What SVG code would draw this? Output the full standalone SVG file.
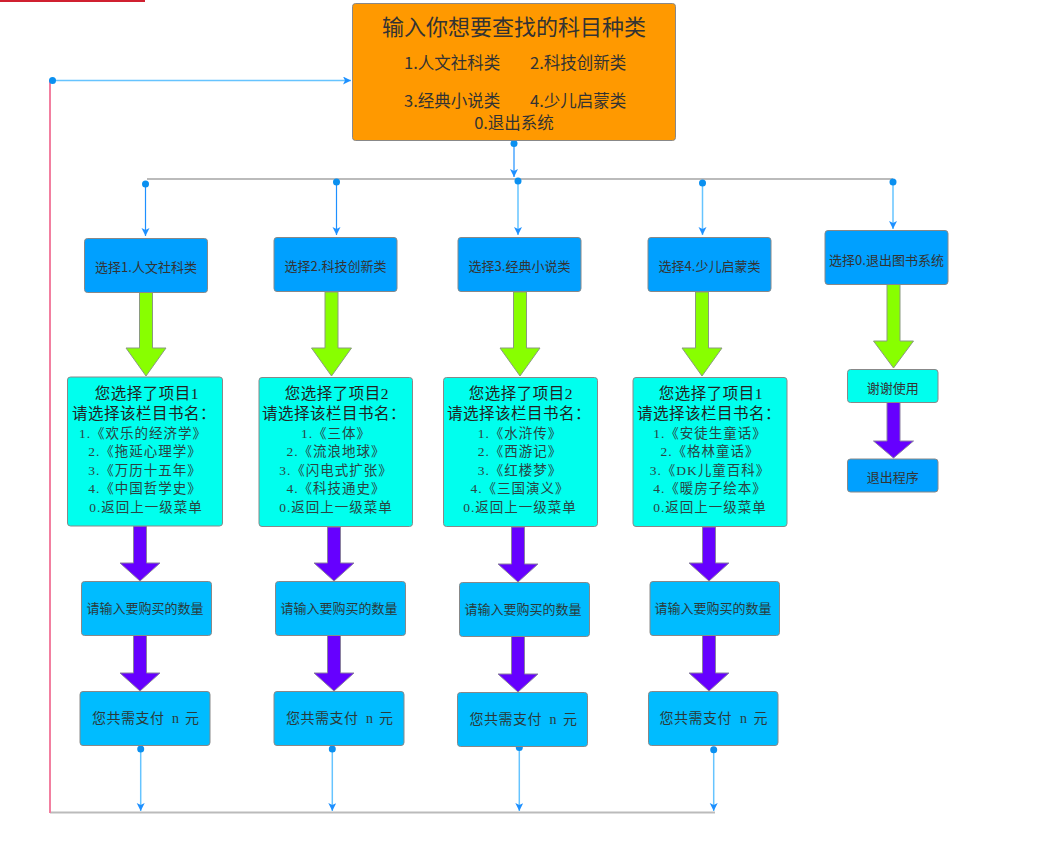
<svg xmlns="http://www.w3.org/2000/svg" width="1052" height="867" viewBox="0 0 1052 867">
<style>
.box{stroke:#888;stroke-width:1}
.orange{fill:#ff9900}
.blue{fill:#00a0ff}
.sky{fill:#00bcff}
.cyan{fill:#00ffee}
.green{fill:#88ff00;stroke:#8a9a80;stroke-width:1}
.purple{fill:#6600ff;stroke:#8a80a0;stroke-width:1}
.t{font-family:"Noto Sans CJK SC","Noto Sans",sans-serif;fill:#333;text-anchor:middle;dominant-baseline:central}
.ts{font-family:"Liberation Serif","Noto Sans CJK SC",serif;fill:#2a3a3a;text-anchor:middle;dominant-baseline:central}
.li{font-size:13.5px;letter-spacing:1px;fill:#2a4444}
.hd{font-size:15.5px;letter-spacing:0.5px;fill:#222}
.c1{fill:none;stroke:#1e90ff;stroke-width:1.2}
.c2{fill:none;stroke:#66c4ff;stroke-width:1.5}
.g{fill:none;stroke:#bbbbbb;stroke-width:2}
.dot{fill:#0a90f0}
</style>
<defs>
<marker id="ah" markerUnits="userSpaceOnUse" markerWidth="10" markerHeight="10" refX="8" refY="4" orient="auto">
<path d="M0,0 L8,4 L0,8 L2,4 z" fill="#1e90ff"/>
</marker>
</defs>
<rect x="0" y="0" width="145" height="2" fill="#d02030"/>

<g id="connectors">
<line class="g" x1="147" y1="179" x2="893" y2="179"/>
<line class="g" x1="50" y1="812.5" x2="715" y2="812.5"/>
<line x1="50" y1="80" x2="50" y2="813" stroke="#f27fa0" stroke-width="2"/>
<line class="c2" x1="52.5" y1="80.5" x2="351" y2="80.5" marker-end="url(#ah)"/>
<circle class="dot" cx="52.5" cy="80.5" r="3.5"/>
<line class="c1" x1="514" y1="143" x2="514" y2="177" marker-end="url(#ah)"/>
<circle class="dot" cx="514" cy="143.5" r="3.5"/>
<line class="c1" x1="145.5" y1="184" x2="145.5" y2="236" marker-end="url(#ah)"/>
<circle class="dot" cx="145.5" cy="184" r="3.5"/>
<line class="c1" x1="336.5" y1="182" x2="336.5" y2="235" marker-end="url(#ah)"/>
<circle class="dot" cx="336.5" cy="182" r="3.5"/>
<line class="c2" x1="518" y1="181" x2="518" y2="235" marker-end="url(#ah)"/>
<circle class="dot" cx="518" cy="181" r="3.5"/>
<line class="c2" x1="702.5" y1="183" x2="702.5" y2="235" marker-end="url(#ah)"/>
<circle class="dot" cx="702.5" cy="183" r="3.5"/>
<line class="c2" x1="893" y1="182" x2="893" y2="229" marker-end="url(#ah)"/>
<circle class="dot" cx="893" cy="182" r="3.5"/>
<line class="c2" x1="140.7" y1="749" x2="140.7" y2="811" marker-end="url(#ah)"/>
<circle class="dot" cx="140.7" cy="749" r="3.5"/>
<line class="c2" x1="332.3" y1="749" x2="332.3" y2="811" marker-end="url(#ah)"/>
<circle class="dot" cx="332.3" cy="749" r="3.5"/>
<line class="c2" x1="519.3" y1="747.5" x2="519.3" y2="811" marker-end="url(#ah)"/>
<circle class="dot" cx="519.3" cy="747.5" r="3.5"/>
<line class="c2" x1="713.7" y1="749.7" x2="713.7" y2="811" marker-end="url(#ah)"/>
<circle class="dot" cx="713.7" cy="749.7" r="3.5"/>
<polygon class="green" points="139.5,292 152.5,292 152.5,348 166,348 146,376 126,348 139.5,348"/>
<polygon class="green" points="325,292 338,292 338,348 351.5,348 331.5,376 311.5,348 325,348"/>
<polygon class="green" points="513.5,292 526.5,292 526.5,348 540,348 520,376 500,348 513.5,348"/>
<polygon class="green" points="695.5,292 708.5,292 708.5,348 722,348 702,376 682,348 695.5,348"/>
<polygon class="green" points="887,284 900,284 900,341 913.5,341 893.5,368 873.5,341 887,341"/>
<polygon class="purple" points="133.5,526 146.5,526 146.5,563 160,563 140,581 120,563 133.5,563"/>
<polygon class="purple" points="327.5,527 340.5,527 340.5,563 354,563 334,581 314,563 327.5,563"/>
<polygon class="purple" points="511.5,527 524.5,527 524.5,564 538,564 518,582 498,564 511.5,564"/>
<polygon class="purple" points="702.5,527 715.5,527 715.5,563 729,563 709,581 689,563 702.5,563"/>
<polygon class="purple" points="133.5,635 146.5,635 146.5,673 160,673 140,691 120,673 133.5,673"/>
<polygon class="purple" points="327.5,635 340.5,635 340.5,673 354,673 334,691 314,673 327.5,673"/>
<polygon class="purple" points="511.5,636 524.5,636 524.5,674 538,674 518,692 498,674 511.5,674"/>
<polygon class="purple" points="702.5,635 715.5,635 715.5,673 729,673 709,691 689,673 702.5,673"/>
<polygon class="purple" points="887,402 900,402 900,441 913.5,441 893.5,458 873.5,441 887,441"/>
</g>

<g id="start">
<rect class="box orange" x="352.5" y="3.5" width="323" height="137" rx="3"/>
<text class="t" x="514" y="25" font-size="22">输入你想要查找的科目种类</text>
<text class="t" x="404" y="62" font-size="16.5" style="text-anchor:start">1.人文社科类</text>
<text class="t" x="530" y="62" font-size="16.5" style="text-anchor:start">2.科技创新类</text>
<text class="t" x="404" y="100" font-size="16.5" style="text-anchor:start">3.经典小说类</text>
<text class="t" x="530" y="100" font-size="16.5" style="text-anchor:start">4.少儿启蒙类</text>
<text class="t" x="514" y="121.5" font-size="16.5">0.退出系统</text>
</g>

<g id="sel1"><rect class="box blue" x="84.5" y="238.5" width="123" height="54" rx="3"/><text class="t" x="146" y="266.5" font-size="13">选择1.人文社科类</text></g>
<g id="sel2"><rect class="box blue" x="274" y="237.5" width="123" height="54" rx="3"/><text class="t" x="335.5" y="265.5" font-size="13">选择2.科技创新类</text></g>
<g id="sel3"><rect class="box blue" x="458" y="237.5" width="123" height="54" rx="3"/><text class="t" x="519.5" y="265.5" font-size="13">选择3.经典小说类</text></g>
<g id="sel4"><rect class="box blue" x="648" y="237.5" width="123" height="54" rx="3"/><text class="t" x="709.5" y="265.5" font-size="13">选择4.少儿启蒙类</text></g>
<g id="sel0"><rect class="box blue" x="825" y="230.5" width="123" height="54" rx="3"/><text class="t" x="886.5" y="259" font-size="13">选择0.退出图书系统</text></g>

<g id="list1">
<rect class="box cyan" x="67.5" y="377" width="155" height="149" rx="3"/>
<text class="ts hd" x="147" y="393">您选择了项目1</text>
<text class="ts hd" x="144" y="413">请选择该栏目书名：</text>
<text class="ts li" x="143" y="433">1.《欢乐的经济学》</text>
<text class="ts li" x="145" y="451.5">2.《拖延心理学》</text>
<text class="ts li" x="145" y="470">3.《万历十五年》</text>
<text class="ts li" x="145" y="488.5">4.《中国哲学史》</text>
<text class="ts li" x="146" y="507">0.返回上一级菜单</text>
</g>
<g id="list2">
<rect class="box cyan" x="259" y="377.5" width="153.5" height="149" rx="3"/>
<text class="ts hd" x="337" y="393">您选择了项目2</text>
<text class="ts hd" x="334" y="413">请选择该栏目书名：</text>
<text class="ts li" x="336" y="433">1.《三体》</text>
<text class="ts li" x="336" y="451.5">2.《流浪地球》</text>
<text class="ts li" x="336" y="470">3.《闪电式扩张》</text>
<text class="ts li" x="336" y="488.5">4.《科技通史》</text>
<text class="ts li" x="336" y="507">0.返回上一级菜单</text>
</g>
<g id="list3">
<rect class="box cyan" x="443.5" y="377.5" width="154" height="149" rx="3"/>
<text class="ts hd" x="521" y="393">您选择了项目2</text>
<text class="ts hd" x="519" y="413">请选择该栏目书名：</text>
<text class="ts li" x="520" y="433">1.《水浒传》</text>
<text class="ts li" x="520" y="451.5">2.《西游记》</text>
<text class="ts li" x="520" y="470">3.《红楼梦》</text>
<text class="ts li" x="520" y="488.5">4.《三国演义》</text>
<text class="ts li" x="520" y="507">0.返回上一级菜单</text>
</g>
<g id="list4">
<rect class="box cyan" x="633" y="377.5" width="154" height="149" rx="3"/>
<text class="ts hd" x="711" y="393">您选择了项目1</text>
<text class="ts hd" x="709" y="413">请选择该栏目书名：</text>
<text class="ts li" x="710" y="433">1.《安徒生童话》</text>
<text class="ts li" x="710" y="451.5">2.《格林童话》</text>
<text class="ts li" x="710" y="470">3.《DK儿童百科》</text>
<text class="ts li" x="710" y="488.5">4.《暖房子绘本》</text>
<text class="ts li" x="710" y="507">0.返回上一级菜单</text>
</g>

<g id="qty1"><rect class="box sky" x="81.5" y="581.5" width="130" height="54" rx="3"/><text class="ts" x="145" y="608" font-size="13">请输入要购买的数量</text></g>
<g id="qty2"><rect class="box sky" x="275.5" y="581.5" width="130" height="54" rx="3"/><text class="ts" x="339" y="608" font-size="13">请输入要购买的数量</text></g>
<g id="qty3"><rect class="box sky" x="459.5" y="582.5" width="130" height="54" rx="3"/><text class="ts" x="523" y="609" font-size="13">请输入要购买的数量</text></g>
<g id="qty4"><rect class="box sky" x="650" y="581.5" width="129.5" height="54" rx="3"/><text class="ts" x="713" y="608" font-size="13">请输入要购买的数量</text></g>

<g id="pay1"><rect class="box sky" x="80" y="691.5" width="130" height="54" rx="3"/><text class="ts" y="718" font-size="14" letter-spacing="0.5" style="text-anchor:start"><tspan x="92">您共需支付</tspan><tspan x="172">n</tspan><tspan x="185">元</tspan></text></g>
<g id="pay2"><rect class="box sky" x="274" y="691.5" width="130" height="54" rx="3"/><text class="ts" y="718" font-size="14" letter-spacing="0.5" style="text-anchor:start"><tspan x="286">您共需支付</tspan><tspan x="366">n</tspan><tspan x="379">元</tspan></text></g>
<g id="pay3"><rect class="box sky" x="457.5" y="692.5" width="130" height="54" rx="3"/><text class="ts" y="719" font-size="14" letter-spacing="0.5" style="text-anchor:start"><tspan x="469.5">您共需支付</tspan><tspan x="549.5">n</tspan><tspan x="563">元</tspan></text></g>
<g id="pay4"><rect class="box sky" x="648.5" y="691.5" width="129.5" height="54" rx="3"/><text class="ts" y="718" font-size="14" letter-spacing="0.5" style="text-anchor:start"><tspan x="659.5">您共需支付</tspan><tspan x="740">n</tspan><tspan x="753.5">元</tspan></text></g>

<g id="thanks"><rect class="box cyan" x="847.5" y="369.5" width="90.5" height="33" rx="3"/><text class="t" x="892.7" y="387" font-size="13">谢谢使用</text></g>
<g id="exit"><rect class="box blue" x="847.5" y="459" width="90.5" height="33" rx="3"/><text class="t" x="892.7" y="476" font-size="13">退出程序</text></g>
</svg>
